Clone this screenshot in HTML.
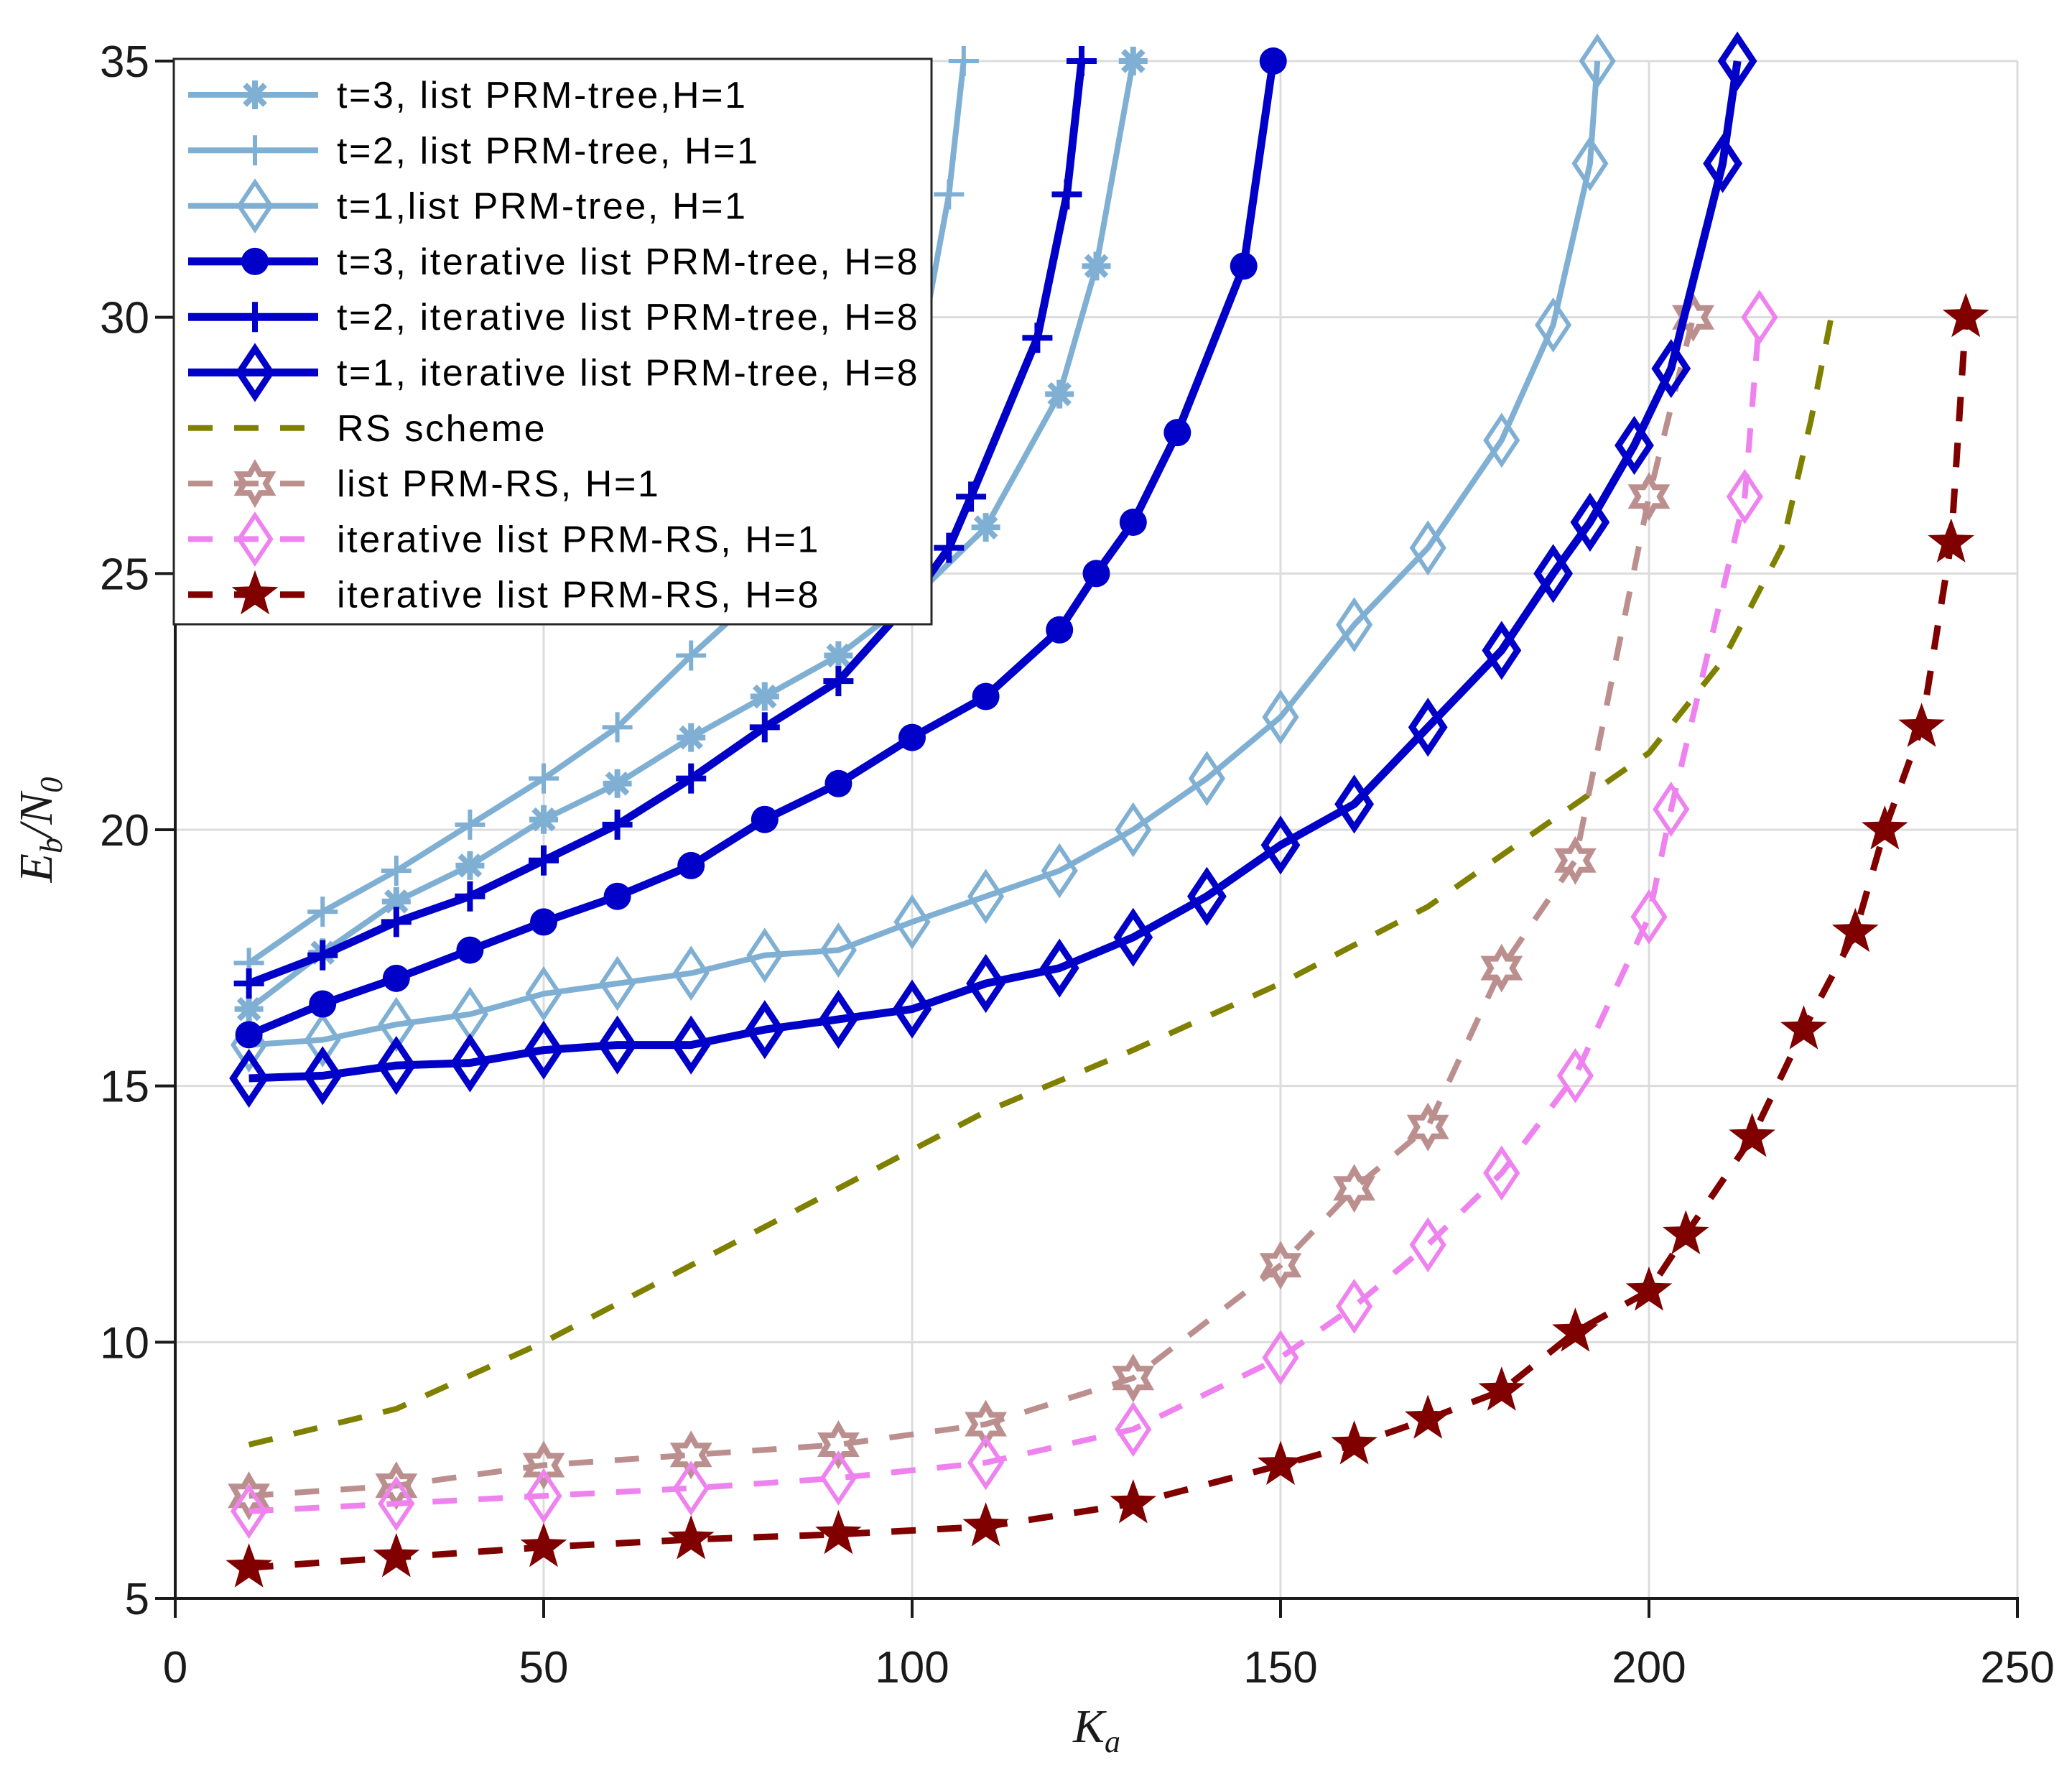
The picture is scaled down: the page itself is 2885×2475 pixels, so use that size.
<!DOCTYPE html>
<html><head><meta charset="utf-8"><style>
html,body{margin:0;padding:0;background:#fff;}
svg{display:block;font-family:"Liberation Sans",sans-serif;}
</style></head><body>
<svg id="chart" width="2885" height="2475" viewBox="0 0 2885 2475" xmlns="http://www.w3.org/2000/svg"></svg>
<script>
const xTicks=[0,50,100,150,200,250];
const yTicks=[5,10,15,20,25,30,35];
const kA3=[10,20,30,40,50,60,70,80,90,100,110,120,125,130];
const eA3=[16.5,17.6,18.6,19.3,20.2,20.9,21.8,22.6,23.4,24.5,25.9,28.5,31.0,35.0];
const kA2=[10,20,30,40,50,60,70,80,90,100,105,107];
const eA2=[17.4,18.4,19.2,20.1,21.0,22.0,23.4,24.7,26.2,28.5,32.4,35.0];
const kA1=[10,20,30,40,50,60,70,80,90,100,110,120,130,140,150,160,170,180,187,192,193];
const eA1=[15.8,15.9,16.2,16.4,16.8,17.0,17.2,17.55,17.65,18.2,18.7,19.2,20.0,21.0,22.2,24.0,25.5,27.6,29.85,33.0,35.0];
const kB3=[10,20,30,40,50,60,70,80,90,100,110,120,125,130,136,145,149];
const eB3=[16.0,16.6,17.1,17.65,18.2,18.7,19.3,20.2,20.9,21.8,22.6,23.9,25.0,26.0,27.75,31.0,35.0];
const kB2=[10,20,30,40,50,60,70,80,90,100,105,108,117,121,123];
const eB2=[17.0,17.55,18.2,18.7,19.4,20.1,21.0,22.0,22.9,24.5,25.5,26.5,29.6,32.4,35.0];
const kB1=[10,20,30,40,50,60,70,80,90,100,110,120,130,140,150,160,170,180,187,192,198,203,210,212];
const eB1=[15.15,15.2,15.4,15.45,15.7,15.8,15.8,16.1,16.3,16.5,17.0,17.3,17.9,18.7,19.7,20.5,22.0,23.5,25.0,26.0,27.5,29.0,33.0,35.0];
const kRS=[10,30,50,70,90,110,130,150,170,190,200,210,218,222,225];
const eRS=[8.0,8.7,10.0,11.5,13.0,14.5,15.7,17.0,18.5,20.5,21.5,23.3,25.5,28.0,30.2];
const kP1=[10,30,50,70,90,110,130,150,160,170,180,190,200,206];
const eP1=[7.0,7.2,7.6,7.8,8.0,8.4,9.3,11.5,13.0,14.2,17.3,19.4,26.5,30.0];
const kI1=[10,30,50,70,90,110,130,150,160,170,180,190,200,203,213,215];
const eI1=[6.7,6.85,7.0,7.15,7.35,7.65,8.3,9.7,10.7,11.9,13.3,15.2,18.3,20.4,26.5,30.0];
const kI8=[10,30,50,70,90,110,130,150,160,170,180,190,200,205,214,221,228,232,237,241,243];
const eI8=[5.6,5.8,6.0,6.15,6.25,6.4,6.85,7.6,8.0,8.5,9.05,10.2,11.0,12.1,14.0,16.1,18.0,20.0,22.0,25.6,30.0];

const X0=244,X1=2809,Y0=2225,Y1=85;
const sx=v=>X0+(v-0)/(250-0)*(X1-X0);
const sy=v=>Y0-(v-5)/(35-5)*(Y0-Y1);
const NS="http://www.w3.org/2000/svg";
const svg=document.getElementById('chart');
function mk(tag,attrs,parent){const e=document.createElementNS(NS,tag);for(const k in attrs)e.setAttribute(k,attrs[k]);(parent||svg).appendChild(e);return e;}

// grid
const grid=mk('g',{});


xTicks.forEach(t=>{if(t>0)mk('line',{x1:sx(t),x2:sx(t),y1:Y0,y2:Y1,stroke:'#dcdcdc','stroke-width':3},grid);});
yTicks.forEach(t=>{if(t>5)mk('line',{x1:X0,x2:X1,y1:sy(t),y2:sy(t),stroke:'#dcdcdc','stroke-width':3},grid);});

// axes
const ax=mk('g',{stroke:'#1a1a1a','stroke-width':4});


mk('line',{x1:X0,x2:X1+2,y1:Y0,y2:Y0},ax);
mk('line',{x1:X0,x2:X0,y1:Y0+2,y2:Y1},ax);
xTicks.forEach(t=>{mk('line',{x1:sx(t),x2:sx(t),y1:Y0,y2:Y0+27},ax);});
yTicks.forEach(t=>{mk('line',{x1:X0-28,x2:X0,y1:sy(t),y2:sy(t)},ax);});
xTicks.forEach(t=>{const e=mk('text',{x:sx(t),y:2342,'text-anchor':'middle','font-size':62,fill:'#1a1a1a'});e.textContent=t;

});
yTicks.forEach(t=>{const e=mk('text',{x:208,y:sy(t)+22,'text-anchor':'end','font-size':62,fill:'#1a1a1a'});e.textContent=t;

});
const xl=mk('text',{x:1527,y:2425,'text-anchor':'middle','font-size':66,'font-style':'italic','font-family':'Liberation Serif, serif',fill:'#1a1a1a'});
xl.innerHTML='K<tspan font-size="44" dy="14">a</tspan>';


const yl=mk('text',{x:0,y:0,transform:'translate(72,1155) rotate(-90)','text-anchor':'middle','font-size':66,'font-style':'italic','font-family':'Liberation Serif, serif',fill:'#1a1a1a'});
yl.innerHTML='E<tspan font-size="44" dy="14">b</tspan><tspan dy="-14">/N</tspan><tspan font-size="44" dy="14">0</tspan>';



function starPts(cx,cy,R,r,n,rot){let p=[];for(let i=0;i<2*n;i++){const a=rot+i*Math.PI/n;const rr=i%2?r:R;p.push((cx+rr*Math.sin(a)).toFixed(1)+','+(cy-rr*Math.cos(a)).toFixed(1));}return p.join(' ');}
function marker(g,type,x,y,c,lw){
 if(type==='ast'){const s=20;mk('path',{d:`M${x-s},${y}H${x+s}M${x},${y-s}V${y+s}M${x-14},${y-14}L${x+14},${y+14}M${x-14},${y+14}L${x+14},${y-14}`,stroke:c,'stroke-width':8,fill:'none'},g);}
 else if(type==='plus'){const s=21;mk('path',{d:`M${x-s},${y}H${x+s}M${x},${y-s}V${y+s}`,stroke:c,'stroke-width':lw,fill:'none'},g);}
 else if(type==='dia'){mk('polygon',{points:`${x},${y-33} ${x+22},${y} ${x},${y+33} ${x-22},${y}`,stroke:c,'stroke-width':lw,fill:'none'},g);}
 else if(type==='dot'){mk('circle',{cx:x,cy:y,r:19,fill:c},g);}
 else if(type==='hex'){mk('polygon',{points:starPts(x,y,26,15,6,0),stroke:c,'stroke-width':8,fill:'none'},g);}
 else if(type==='star'){mk('polygon',{points:starPts(x,y,34,14,5,0),fill:c},g);}
}
const series=[
 {n:'rs-scheme',k:kRS,e:eRS,c:'#808000',w:8,dash:'34 30',m:null},
 {n:'list-prm-rs-h1',k:kP1,e:eP1,c:'#bc8f8f',w:8,dash:'34 30',m:'hex'},
 {n:'iter-list-prm-rs-h1',k:kI1,e:eI1,c:'#ee82ee',w:8,dash:'34 30',m:'dia',mw:6},
 {n:'iter-list-prm-rs-h8',k:kI8,e:eI8,c:'#800000',w:9,dash:'34 30',m:'star'},
 {n:'t1-list-prm-tree',k:kA1,e:eA1,c:'#7fafd3',w:8,m:'dia',mw:6},
 {n:'t2-list-prm-tree',k:kA2,e:eA2,c:'#7fafd3',w:8,m:'plus',mw:6},
 {n:'t3-list-prm-tree',k:kA3,e:eA3,c:'#7fafd3',w:8,m:'ast'},
 {n:'t1-iter-list-prm-tree',k:kB1,e:eB1,c:'#0000c8',w:11,m:'dia',mw:9},
 {n:'t2-iter-list-prm-tree',k:kB2,e:eB2,c:'#0000c8',w:11,m:'plus',mw:8},
 {n:'t3-iter-list-prm-tree',k:kB3,e:eB3,c:'#0000c8',w:11,m:'dot'},
];
series.forEach(s=>{
 const g=mk('g',{});
 
 
 const pts=s.k.map((k,i)=>sx(k).toFixed(1)+','+sy(s.e[i]).toFixed(1)).join(' ');
 const a={points:pts,fill:'none',stroke:s.c,'stroke-width':s.w,'stroke-linejoin':'round'};
 if(s.dash)a['stroke-dasharray']=s.dash;
 mk('polyline',a,g);
 if(s.m)s.k.forEach((k,i)=>marker(g,s.m,sx(k),sy(s.e[i]),s.c,s.mw||6));
});

// legend
const legendLabels=['t=3, list PRM-tree,H=1','t=2, list PRM-tree, H=1','t=1,list PRM-tree, H=1','t=3, iterative list PRM-tree, H=8','t=2, iterative list PRM-tree, H=8','t=1, iterative list PRM-tree, H=8','RS scheme','list PRM-RS, H=1','iterative list PRM-RS, H=1','iterative list PRM-RS, H=8'];
const legendOrder=[6,5,4,9,8,7,0,1,2,3];
const lg=mk('g',{});


mk('rect',{x:242,y:82,width:1055,height:787,fill:'#fff',stroke:'#262626','stroke-width':3},lg);
legendLabels.forEach((lab,i)=>{
 const s=series[legendOrder[i]];const y=132+i*77.3;
 const eg=mk('g',{},lg);
 
 
 const a={x1:262,x2:443,y1:y,y2:y,stroke:s.c,'stroke-width':s.w};
 if(s.dash)a['stroke-dasharray']='34 30';
 mk('line',a,eg);
 if(s.m)marker(eg,s.m,355,y,s.c,s.mw||6);
 const t=mk('text',{x:469,y:y+18,'font-size':52,'letter-spacing':2.6,fill:'#000'},eg);t.textContent=lab;
});
</script>
</body></html>
